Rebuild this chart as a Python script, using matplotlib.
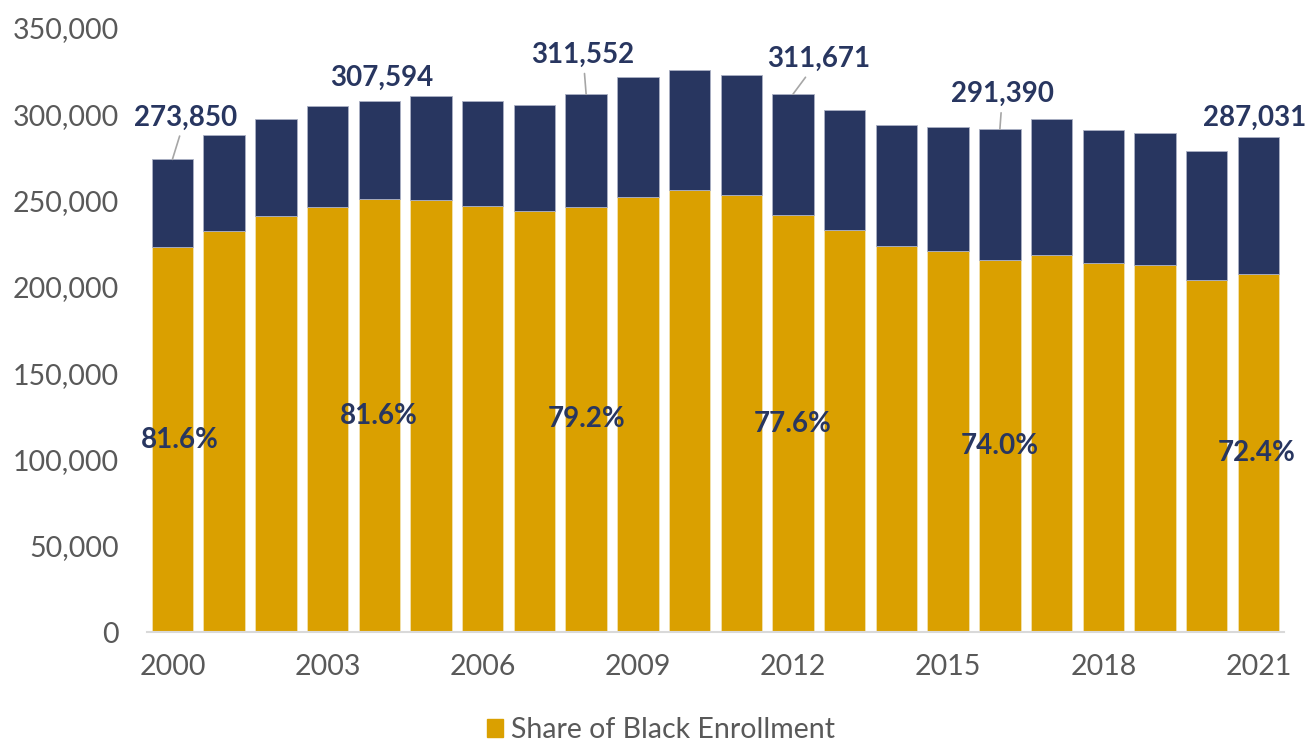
import numpy as np
import matplotlib
matplotlib.use("Agg")
import matplotlib.pyplot as plt
from matplotlib.patches import Patch

plt.rcParams['font.family'] = ['Lato', 'DejaVu Sans']

# values
years = list(range(2000, 2022))
total = [273850, 288050, 297200, 304900, 307594, 310300, 307600, 305300,
         311552, 321400, 325600, 322500, 311671, 302400, 293500, 292500,
         291390, 297350, 291000, 289400, 279000, 287031]
black = [223050, 232560, 240870, 246490, 250730, 250540, 246860, 244170,
         246490, 252080, 256140, 253460, 241450, 233150, 223640, 220960,
         215330, 218230, 213590, 212430, 204130, 207610]

# labelled years
label_years = [2000, 2004, 2008, 2012, 2016, 2021]
share_labels = ['81.6%', '81.6%', '79.2%', '77.6%', '74.0%', '72.4%']

# label placement (bar units, values) relative to bar top / bar centre
total_offsets = {2000: (0.25, 24200), 2004: (0.05, 13300), 2008: (-0.06, 22800),
                 2012: (0.5, 20200), 2016: (0.05, 20200), 2021: (-0.07, 10700)}
leader = {2000: True, 2004: False, 2008: True, 2012: True, 2016: True, 2021: False}
share_dx = {2000: 0.15, 2004: 0.0, 2008: 0.0, 2012: 0.0, 2016: 0.0, 2021: -0.03}

gold = '#DAA000'
navy = '#283660'
grey_txt = '#595959'

x = np.arange(len(years))
rest = np.array(total) - np.array(black)

fig = plt.figure(figsize=(13.12, 7.42), dpi=100)
ax = fig.add_axes([0.1117, 0.1482, 0.8672, 0.8141])

ax.bar(x, black, width=0.8, color=gold, edgecolor='#f3e2b0', linewidth=0.6)
ax.bar(x, rest, width=0.8, bottom=black, color=navy, edgecolor='#aab0c4', linewidth=0.6)

for yr, lab in zip(label_years, share_labels):
    i = years.index(yr)
    dx, dy = total_offsets[yr]
    props = dict(arrowstyle='-', color='#a6a6a6', lw=1.2, shrinkA=2, shrinkB=0) if leader[yr] else None
    ax.annotate(f'{total[i]:,}', xy=(i, total[i]), xytext=(i + dx, total[i] + dy),
                ha='center', va='center', fontsize=20, fontweight='bold', color=navy,
                arrowprops=props, annotation_clip=False)
    ax.text(i + share_dx[yr], black[i] / 2, lab, ha='center', va='center',
            fontsize=20, fontweight='bold', color=navy)

ax.set_xlim(-0.5, len(years) - 0.5)
ax.set_ylim(0, 350000)
ax.set_yticks(np.arange(0, 350001, 50000))
ax.yaxis.set_major_formatter(matplotlib.ticker.FuncFormatter(lambda v, p: f'{v:,.0f}'))
tick_idx = [i for i, yr in enumerate(years) if (yr - 2000) % 3 == 0]
ax.set_xticks(tick_idx)
ax.set_xticklabels([str(years[i]) for i in tick_idx])
ax.tick_params(axis='y', length=0, pad=20, labelsize=20.5, labelcolor=grey_txt)
ax.tick_params(axis='x', length=0, pad=16, labelsize=20.5, labelcolor=grey_txt)

for s in ['top', 'right', 'left']:
    ax.spines[s].set_visible(False)
ax.spines['bottom'].set_color('#d9d9d9')
ax.spines['bottom'].set_linewidth(1.5)

fig.legend(handles=[Patch(color=gold, label='Share of Black Enrollment')],
           loc='center', bbox_to_anchor=(0.504, 0.016), frameon=False,
           fontsize=20.5, labelcolor=grey_txt, handlelength=0.55, handleheight=0.55,
           handletextpad=0.3)

fig.savefig('out.png', dpi=100)
